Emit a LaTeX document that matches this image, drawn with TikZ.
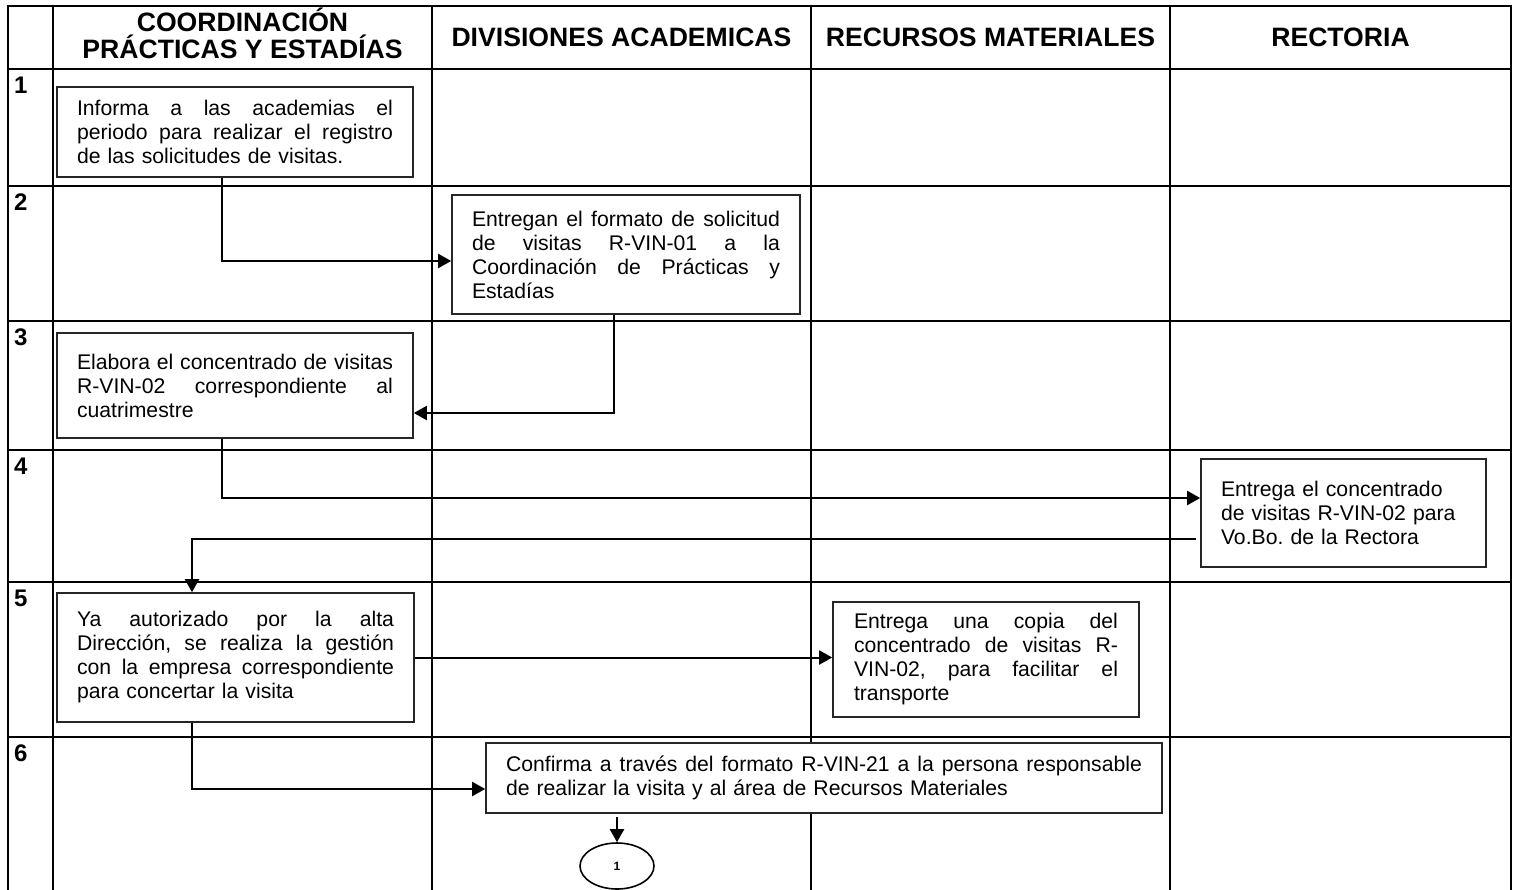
\documentclass[tikz,border=0pt]{standalone}
\usepackage{fontspec}
\setmainfont{Liberation Sans}
\usetikzlibrary{arrows.meta,shapes.geometric}

\newcommand{\jline}[1]{\leavevmode\hbox to \hsize{\spaceskip=0.278em plus 1fil minus 0.1em\relax #1}}
\frenchspacing

\tikzset{
  lane/.style={line width=2.4pt, line cap=rect},
  box/.style={draw=black!85, fill=white, line width=1.6pt, rectangle, align=left,
    inner xsep=20pt, inner ysep=0pt, font=\fontsize{21.2}{24}\selectfont},
  flow/.style={line width=2pt, -{Triangle[length=13pt,width=14pt]}},
  head/.style={font=\fontsize{26.6}{27}\selectfont\bfseries, align=center},
  num/.style={font=\fontsize{24}{24}\selectfont\bfseries, anchor=north west, inner sep=0pt}
}

\begin{document}
\begin{tikzpicture}[x=1pt,y=-1pt]
  \useasboundingbox (0,0) rectangle (1514,889);

  % table
  \foreach \x in {8,53,432,811,1170,1511}
    \draw[lane] (\x,6) -- (\x,889);
  \foreach \y in {6,69,186,321,450,582,737}
    \draw[lane] (8,\y) -- (1511,\y);

  % headers
  \node[head] (hcoord) at (242.5,33) {COORDINACIÓN\\PRÁCTICAS Y ESTADÍAS};
  \node[head] (hdiv) at (621.5,37.5) {DIVISIONES ACADEMICAS};
  \node[head] (hmat) at (990.5,37.5) {RECURSOS MATERIALES};
  \node[head] (hrect) at (1340.5,37.5) {RECTORIA};

  % step numbers
  \foreach \n/\y in {1/69,2/186,3/321,4/450,5/582,6/737}
    \node[num] (n\n) at (14,\y+8) {\n};

  % activities
  \node[box, text width=316pt, minimum height=90pt] (inform) at (235,132)
    {\jline{Informa a las academias el}\\
     \jline{periodo para realizar el registro}\\
     de las solicitudes de visitas.};
  \node[box, text width=308pt, minimum height=119pt] (deliver) at (626,254.5)
    {\jline{Entregan el formato de solicitud}\\
     \jline{de visitas R-VIN-01 a la}\\
     \jline{Coordinación de Prácticas y}\\
     Estadías};
  \node[box, text width=316pt, minimum height=105pt] (compile) at (235,385.5)
    {\jline{Elabora el concentrado de visitas}\\
     \jline{R-VIN-02 correspondiente al}\\
     cuatrimestre};
  \node[box, text width=245pt, minimum height=108pt] (approve) at (1343.5,513)
    {Entrega el concentrado\\
     de visitas R-VIN-02 para\\
     Vo.Bo. de la Rectora};
  \node[box, text width=317pt, minimum height=129pt] (arrange) at (235.5,657.5)
    {\jline{Ya autorizado por la alta}\\
     \jline{Dirección, se realiza la gestión}\\
     \jline{con la empresa correspondiente}\\
     para concertar la visita};
  \node[box, text width=264pt, inner xsep=21pt, minimum height=115pt] (copy) at (986,659.5)
    {\jline{Entrega una copia del}\\
     \jline{concentrado de visitas R-}\\
     \jline{VIN-02, para facilitar el}\\
     transporte};
  \node[box, text width=636pt, minimum height=70pt] (confirm) at (824,778)
    {\jline{Confirma a través del formato R-VIN-21 a la persona responsable}\\
     de realizar la visita y al área de Recursos Materiales};
  \node[ellipse, draw, line width=1.6pt, fill=white, minimum width=74pt, minimum height=46pt,
    font=\fontsize{12}{12}\selectfont\bfseries] (conn) at (617,866) {1};

  % flow
  \draw[flow] ([xshift=-13pt]inform.south) |- ([yshift=-6.5pt]deliver.west);
  \draw[flow] ([xshift=-12pt]deliver.south) |- ([yshift=-27.5pt]compile.east);
  \draw[flow] ([xshift=-13pt]compile.south) |- ([yshift=15pt]approve.west);
  \draw[flow, shorten <=4pt] ([yshift=-26pt]approve.west) -| ([xshift=-43.5pt]arrange.north);
  \draw[flow] (arrange.east) -- (arrange.east -| copy.west);
  \draw[flow] ([xshift=-43.5pt]arrange.south) |- ([yshift=-11pt]confirm.west);
  \draw[flow, shorten <=3pt] (confirm.south -| conn.north) -- (conn.north);
\end{tikzpicture}
\end{document}
